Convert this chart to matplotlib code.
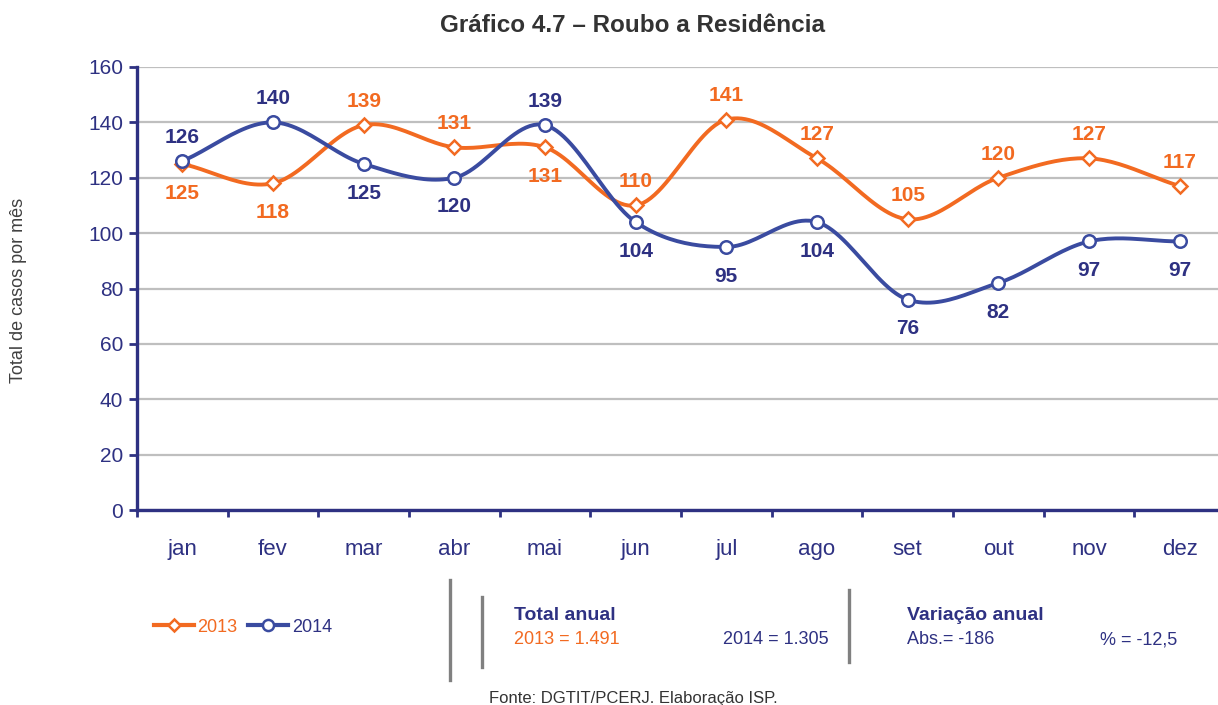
import numpy as np
import matplotlib.pyplot as plt
from matplotlib.lines import Line2D

# dados
meses = ['jan', 'fev', 'mar', 'abr', 'mai', 'jun', 'jul', 'ago', 'set', 'out', 'nov', 'dez']
v2013 = [125, 118, 139, 131, 131, 110, 141, 127, 105, 120, 127, 117]
v2014 = [126, 140, 125, 120, 139, 104, 95, 104, 76, 82, 97, 97]
# rótulo acima (1) ou abaixo (-1) do ponto
pos2013 = [-1, -1, 1, 1, -1, 1, 1, 1, 1, 1, 1, 1]
pos2014 = [1, 1, -1, -1, 1, -1, -1, -1, -1, -1, -1, -1]
yticks = [0, 20, 40, 60, 80, 100, 120, 140, 160]

LARANJA = '#F26A21'
AZUL = '#3A4BA0'
MARINHO = '#2E3182'
CINZA = '#BFBFBF'

plt.rcParams['font.family'] = ['Liberation Sans', 'DejaVu Sans']


def suaviza(y, n=24):
    # curva Catmull-Rom pelos pontos (linha suavizada tipo Excel)
    y = np.asarray(y, float)
    x = np.arange(len(y), dtype=float)
    px = np.concatenate([[2 * x[0] - x[1]], x, [2 * x[-1] - x[-2]]])
    py = np.concatenate([[2 * y[0] - y[1]], y, [2 * y[-1] - y[-2]]])
    xs, ys = [], []
    for i in range(1, len(px) - 2):
        t = np.linspace(0, 1, n, endpoint=False)
        for p, out in ((px, xs), (py, ys)):
            p0, p1, p2, p3 = p[i - 1], p[i], p[i + 1], p[i + 2]
            out.extend(0.5 * (2 * p1 + (-p0 + p2) * t + (2 * p0 - 5 * p1 + 4 * p2 - p3) * t ** 2
                              + (-p0 + 3 * p1 - 3 * p2 + p3) * t ** 3))
    xs.append(x[-1])
    ys.append(y[-1])
    return np.array(xs), np.array(ys)


fig = plt.figure(figsize=(12.18, 7.05), dpi=100)
ax = fig.add_axes([137 / 1218, 1 - 510 / 705, 1088 / 1218, (510 - 67) / 705])

x = np.arange(len(meses))
sx, sy = suaviza(v2013)
ax.plot(sx, sy, color=LARANJA, lw=2.8, zorder=3, solid_capstyle='round')
ax.plot(x, v2013, ls='none', marker='D', ms=7, mfc='white', mec=LARANJA, mew=1.8, zorder=4)
sx, sy = suaviza(v2014)
ax.plot(sx, sy, color=AZUL, lw=2.8, zorder=3, solid_capstyle='round')
ax.plot(x, v2014, ls='none', marker='o', ms=9, mfc='white', mec=AZUL, mew=1.8, zorder=5)

for xi, v, p in zip(x, v2013, pos2013):
    ax.annotate(str(v), (xi, v), xytext=(0, 17 if p > 0 else -21), textcoords='offset points',
                ha='center', va='center', color=LARANJA, fontsize=15, fontweight='bold')
for xi, v, p in zip(x, v2014, pos2014):
    ax.annotate(str(v), (xi, v), xytext=(0, 17 if p > 0 else -21), textcoords='offset points',
                ha='center', va='center', color=MARINHO, fontsize=15, fontweight='bold')

ax.set_xlim(-0.5, 11.5)
ax.set_ylim(0, 160)
ax.set_yticks(yticks)
ax.set_xticks(np.arange(-0.5, 12, 1))
ax.set_xticklabels([])
ax.set_xticks(x, minor=True)
ax.set_xticklabels(meses, minor=True)
ax.tick_params(axis='x', which='minor', length=0, pad=21, labelsize=16, labelcolor=MARINHO)
ax.tick_params(axis='x', which='major', length=5, width=2, color=MARINHO, direction='out')
ax.tick_params(axis='y', length=6, width=2, color=MARINHO, labelsize=15, labelcolor=MARINHO, pad=4)
ax.yaxis.grid(True, color=CINZA, lw=1.6)
ax.set_axisbelow(True)
for s in ['top', 'right']:
    ax.spines[s].set_visible(False)
for s in ['left', 'bottom']:
    ax.spines[s].set_color(MARINHO)
    ax.spines[s].set_linewidth(2.4)
    ax.spines[s].set_zorder(6)

fig.text(633 / 1218, 1 - 25 / 705, 'Gráfico 4.7 – Roubo a Residência', ha='center', va='center',
         fontsize=17.5, fontweight='bold', color='#333333')
fig.text(19 / 1218, 1 - 290 / 705, 'Total de casos por mês', rotation=90, ha='center', va='center',
         fontsize=13, color='#404040')

# legenda
handles = [Line2D([], [], color=LARANJA, lw=3, marker='D', ms=6, mfc='white', mec=LARANJA, mew=1.8),
           Line2D([], [], color=AZUL, lw=3, marker='o', ms=8, mfc='white', mec=AZUL, mew=1.8)]
fig.legend(handles, ['2013', '2014'], loc='center', bbox_to_anchor=(243 / 1218, 1 - 627 / 705),
           ncol=2, frameon=False, fontsize=13, labelcolor=[LARANJA, MARINHO],
           handlelength=2.2, handletextpad=0.2, columnspacing=0.6)

# barras separadoras
for xb, y0, y1 in [(450, 580, 680), (482, 597, 667), (849, 590, 662)]:
    fig.add_artist(Line2D([xb / 1218, xb / 1218], [1 - y0 / 705, 1 - y1 / 705],
                          color='#808080', lw=2.4, transform=fig.transFigure))

fig.text(514 / 1218, 1 - 615 / 705, 'Total anual', ha='left', va='center', fontsize=14,
         fontweight='bold', color=MARINHO)
fig.text(514 / 1218, 1 - 640 / 705, '2013 = 1.491', ha='left', va='center', fontsize=13, color=LARANJA)
fig.text(829 / 1218, 1 - 640 / 705, '2014 = 1.305', ha='right', va='center', fontsize=13, color=MARINHO)
fig.text(907 / 1218, 1 - 615 / 705, 'Variação anual', ha='left', va='center', fontsize=14,
         fontweight='bold', color=MARINHO)
fig.text(907 / 1218, 1 - 640 / 705, 'Abs.= -186', ha='left', va='center', fontsize=13, color=MARINHO)
fig.text(1177 / 1218, 1 - 640 / 705, '% = -12,5', ha='right', va='center', fontsize=13, color=MARINHO)
fig.text(633 / 1218, 1 - 699 / 705, 'Fonte: DGTIT/PCERJ. Elaboração ISP.', ha='center', va='center',
         fontsize=12, color='#333333')

fig.savefig('out.png', dpi=100)
